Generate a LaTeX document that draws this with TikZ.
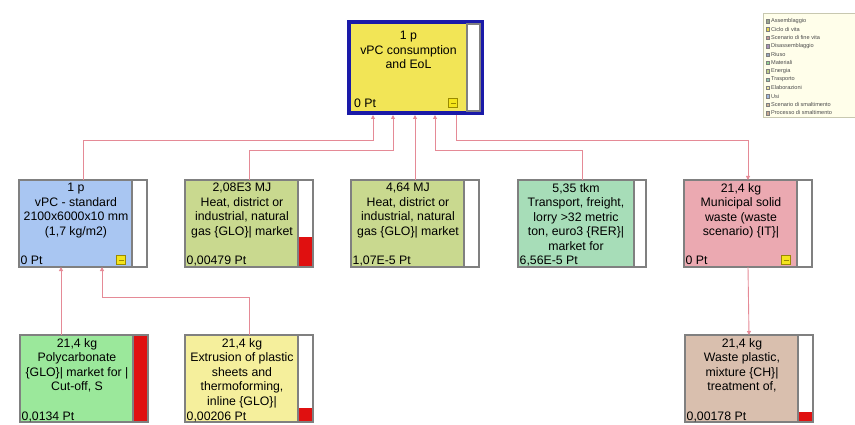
\documentclass[tikz,border=0pt]{standalone}
\usepackage{fontspec}
\setmainfont{Liberation Sans}
\usepackage{tikz}
\usetikzlibrary{arrows.meta, positioning, calc}
\usepackage{xcolor}

\definecolor{topblue}{HTML}{1A1AA8}
\definecolor{topyellow}{HTML}{F2E556}
\definecolor{vpcblue}{HTML}{A9C6F2}
\definecolor{heatgreen}{HTML}{C9D98F}
\definecolor{transgreen}{HTML}{A7DDB8}
\definecolor{munipink}{HTML}{EBA9B1}
\definecolor{polygreen}{HTML}{9BE89B}
\definecolor{extryellow}{HTML}{F5EF9C}
\definecolor{wastetan}{HTML}{D9BFAE}
\definecolor{boxgrey}{HTML}{808080}
\definecolor{barred}{HTML}{E01010}
\definecolor{linkred}{HTML}{E58A96}
\definecolor{iconyellow}{HTML}{F4E41C}
\definecolor{iconline}{HTML}{9A8A00}
\definecolor{legbg}{HTML}{FFFEEA}
\definecolor{legline}{HTML}{C8C8B0}
\definecolor{legA}{HTML}{9AA88C}
\definecolor{legB}{HTML}{E8D850}
\definecolor{legC}{HTML}{C89898}
\definecolor{legD}{HTML}{A890B8}
\definecolor{legE}{HTML}{98A8C0}
\definecolor{legF}{HTML}{90D890}
\definecolor{legG}{HTML}{C0D088}
\definecolor{legH}{HTML}{90C8B0}
\definecolor{legI}{HTML}{F0E8A0}
\definecolor{legJ}{HTML}{A0B8E0}
\definecolor{legK}{HTML}{D0B898}
\definecolor{legL}{HTML}{C8A890}

\newcommand\procfont{\fontsize{12.3}{14.5}\selectfont}
\newcommand\legfont{\fontsize{5.6}{6.5}\selectfont}

\tikzset{
  proc/.style={draw=boxgrey, line width=1.5pt, anchor=north west, inner sep=0pt,
    outer sep=0pt, minimum width=128, minimum height=87},
  ptitle/.style={anchor=north, align=center, font=\procfont, inner sep=0pt},
  pscore/.style={anchor=base west, font=\procfont, inner sep=0pt},
  pbar/.style={draw=boxgrey, line width=1.5pt, fill=white},
  collapse/.style={draw=iconline, line width=0.6pt, fill=iconyellow, minimum size=9,
    inner sep=0pt},
  flow/.style={draw=linkred, line width=0.9pt, -{Triangle[length=4pt,width=4pt]}},
  legsq/.style={draw=gray, line width=0.3pt, minimum size=3.5, inner sep=0pt},
  legtext/.style={font=\legfont, text=black!70, inner sep=0pt, anchor=west}
}

\begin{document}
\begin{tikzpicture}[x=1pt, y=-1pt]
  \useasboundingbox (0,0) rectangle (855,425);

  % main process
  \node[proc, draw=topblue, line width=4pt, outer sep=2pt, minimum width=133,
    minimum height=91, fill=topyellow] (top) at (347,20) {};
  \draw[pbar] ($(top.north east)+(-17,4)$) rectangle ($(top.south east)+(-4,-4)$);
  \node[ptitle] (toptxt) at ($(top.north)+(-7,11)$) {1 p\\vPC consumption\\and EoL};
  \node[pscore] (topscore) at ($(top.south west)+(7,-7)$) {0 Pt};
  \node[collapse] (topcol) at ($(top.south east)+(-31,-12)$) {\textcolor{iconline}{\rule{5pt}{0.8pt}}};

  % second row
  \node[proc, fill=vpcblue] (vpc) at (19,180) {};
  \draw[pbar] ($(vpc.north east)+(-15,0)$) rectangle (vpc.south east);
  \node[ptitle] (vpctxt) at ($(vpc.north)+(-7,3)$) {1 p\\vPC - standard\\2100x6000x10 mm\\(1,7 kg/m2)};
  \node[pscore] (vpcscore) at ($(vpc.south west)+(1.5,-2)$) {0 Pt};
  \node[collapse] (vpccol) at ($(vpc.south east)+(-26,-7)$) {\textcolor{iconline}{\rule{5pt}{0.8pt}}};

  \node[proc, fill=heatgreen] (heat1) at (185,180) {};
  \draw[pbar] ($(heat1.north east)+(-15,0)$) rectangle (heat1.south east);
  \fill[barred] ($(heat1.south east)+(-14.25,-30)$) rectangle ($(heat1.south east)+(-0.75,-0.75)$);
  \node[ptitle] (heat1txt) at ($(heat1.north)+(-7,3)$) {2,08E3 MJ\\Heat, district or\\industrial, natural\\gas \{GLO\}| market};
  \node[pscore] (heat1score) at ($(heat1.south west)+(1.5,-2)$) {0,00479 Pt};

  \node[proc, fill=heatgreen] (heat2) at (351,180) {};
  \draw[pbar] ($(heat2.north east)+(-15,0)$) rectangle (heat2.south east);
  \node[ptitle] (heat2txt) at ($(heat2.north)+(-7,3)$) {4,64 MJ\\Heat, district or\\industrial, natural\\gas \{GLO\}| market};
  \node[pscore] (heat2score) at ($(heat2.south west)+(1.5,-2)$) {1,07E-5 Pt};

  \node[proc, fill=transgreen] (trans) at (518,180) {};
  \draw[pbar] ($(trans.north east)+(-12,0)$) rectangle (trans.south east);
  \node[ptitle] (transtxt) at ($(trans.north)+(-6,3)$) {5,35 tkm\\Transport, freight,\\lorry >32 metric\\ton, euro3 \{RER\}|\\market for};
  \node[pscore] (transscore) at ($(trans.south west)+(1.5,-2)$) {6,56E-5 Pt};

  \node[proc, fill=munipink] (muni) at (684,180) {};
  \draw[pbar] ($(muni.north east)+(-15,0)$) rectangle (muni.south east);
  \node[ptitle] (munitxt) at ($(muni.north)+(-7,3)$) {21,4 kg\\Municipal solid\\waste (waste\\scenario) \{IT\}|};
  \node[pscore] (muniscore) at ($(muni.south west)+(1.5,-2)$) {0 Pt};
  \node[collapse] (municol) at ($(muni.south east)+(-26,-7)$) {\textcolor{iconline}{\rule{5pt}{0.8pt}}};

  % third row
  \node[proc, fill=polygreen] (poly) at (20,335) {};
  \draw[pbar, fill=barred] ($(poly.north east)+(-15,0)$) rectangle (poly.south east);
  \node[ptitle] (polytxt) at ($(poly.north)+(-7,3)$) {21,4 kg\\Polycarbonate\\\{GLO\}| market for |\\Cut-off, S};
  \node[pscore] (polyscore) at ($(poly.south west)+(1.5,-2)$) {0,0134 Pt};

  \node[proc, fill=extryellow] (extr) at (185,335) {};
  \draw[pbar] ($(extr.north east)+(-15,0)$) rectangle (extr.south east);
  \fill[barred] ($(extr.south east)+(-14.25,-14)$) rectangle ($(extr.south east)+(-0.75,-0.75)$);
  \node[ptitle] (extrtxt) at ($(extr.north)+(-7,3)$) {21,4 kg\\Extrusion of plastic\\sheets and\\thermoforming,\\inline \{GLO\}|};
  \node[pscore] (extrscore) at ($(extr.south west)+(1.5,-2)$) {0,00206 Pt};

  \node[proc, fill=wastetan] (waste) at (685,335) {};
  \draw[pbar] ($(waste.north east)+(-15,0)$) rectangle (waste.south east);
  \fill[barred] ($(waste.south east)+(-14.25,-10)$) rectangle ($(waste.south east)+(-0.75,-0.75)$);
  \node[ptitle] (wastetxt) at ($(waste.north)+(-7,3)$) {21,4 kg\\Waste plastic,\\mixture \{CH\}|\\treatment of,};
  \node[pscore] (wastescore) at ($(waste.south west)+(1.5,-2)$) {0,00178 Pt};

  % connectors
  \coordinate (t1) at ($(top.south west)+(26,0)$);
  \coordinate (t2) at ($(top.south west)+(46,0)$);
  \coordinate (t4) at ($(top.south west)+(88,0)$);
  \coordinate (t5) at ($(top.south west)+(109,0)$);
  \coordinate (busA) at (0,140);
  \coordinate (busB) at (0,150);
  \draw[flow] (vpc.north) |- (busA -| t1) -- (t1);
  \draw[flow] (heat1.north) |- (busB -| t2) -- (t2);
  \draw[flow] (heat2.north) -- (heat2.north |- top.south);
  \draw[flow] (trans.north) |- (busB -| t4) -- (t4);
  \draw[flow] (t5) |- (busA -| muni.north) -- (muni.north);

  \coordinate (polyin) at ($(poly.north west)+(41,0)$);
  \coordinate (vpcin) at ($(vpc.south west)+(83,0)$);
  \draw[flow] (polyin) -- (polyin |- vpc.south);
  \draw[flow] (extr.north) |- ($(vpcin)+(0,30)$) -- (vpcin);
  \draw[flow] (muni.south) -- (waste.north);

  % legend
  \draw[draw=legline, fill=legbg] (763,13) rectangle (880,117);
  \foreach \lname/\lcol [count=\i from 0] in {Assemblaggio/legA, Ciclo di vita/legB,
      Scenario di fine vita/legC, Disassemblaggio/legD, Riuso/legE, Materiali/legF,
      Energia/legG, Trasporto/legH, Elaborazioni/legI, Usi/legJ,
      Scenario di smaltimento/legK, Processo di smaltimento/legL} {
    \node[legsq, fill=\lcol] (sq\i) at (767.5, {21+8.36*\i}) {};
    \node[legtext, right=1.5pt of sq\i] (leg\i) {\lname};
  }
\end{tikzpicture}
\end{document}
